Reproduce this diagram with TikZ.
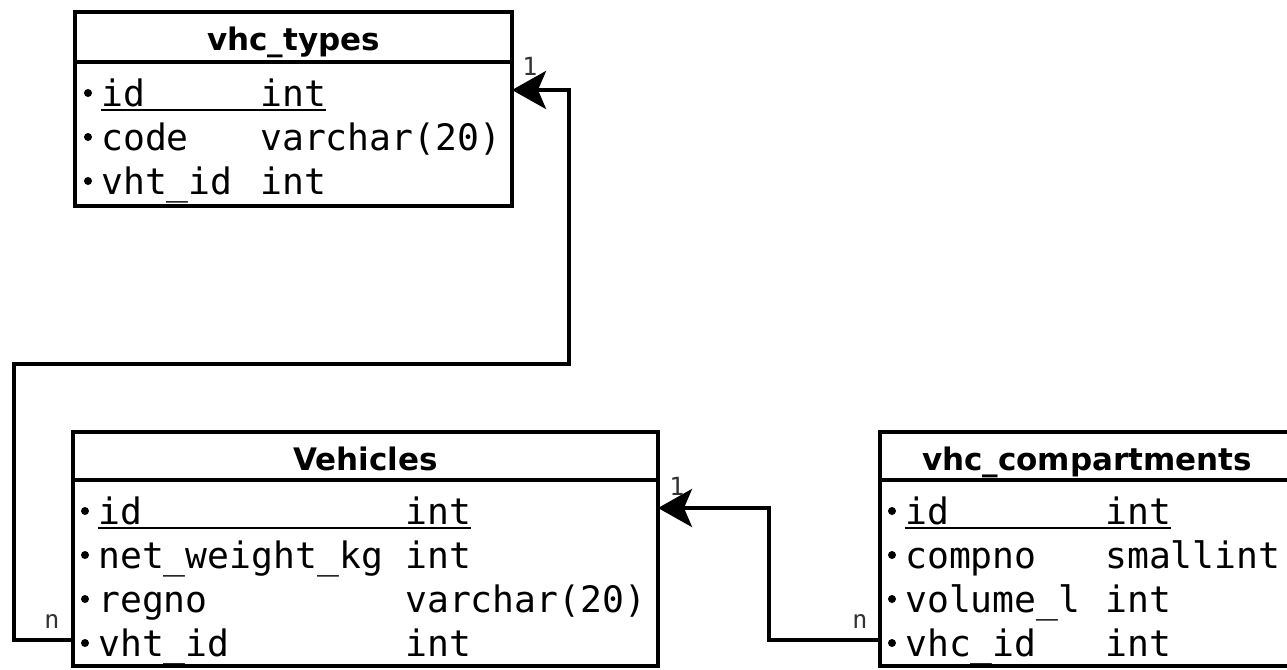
\documentclass[tikz,border=0pt]{standalone}
\usepackage{fontspec}
\usepackage{tikz}
\usetikzlibrary{arrows.meta,positioning}
\newfontfamily\tblmono{DejaVu Sans Mono}
\newfontfamily\tblsans{DejaVu Sans}
\newcommand{\fldfont}{\tblmono\fontsize{36.4}{40}\selectfont}
\newcommand{\hdrfont}{\tblsans\bfseries\fontsize{31}{34}\selectfont}
\newcommand{\cardfont}{\tblmono\fontsize{25}{28}\selectfont}
\tikzset{
	tblhead/.style={draw, line width=4pt, anchor=north west, inner sep=0pt, outer sep=0pt, text height=28pt, text depth=0pt, font=\hdrfont},
	tblbody/.style={draw, line width=4pt, inner sep=0pt, outer sep=0pt},
	fld/.style={anchor=base west, inner sep=0pt, text height=32pt, text depth=0pt, font=\fldfont},
	card/.style={inner sep=0pt, text=black!80, font=\cardfont},
	rel/.style={line width=4pt, -{Stealth[length=34pt, width=38pt, inset=8pt]}},
	pk/.style={line width=2.5pt}
}

\begin{document}
\begin{tikzpicture}[x=1pt, y=-1pt]
		\useasboundingbox (0,0) rectangle (1287,669);
		\clip (0,0) rectangle (1287,669);

		% tabella vhc_types
		\node[tblhead, minimum width=437pt, minimum height=50pt] (typhead) at (75,12) {vhc\_types};
		\node[tblbody, minimum width=437pt, minimum height=144pt, below=0pt of typhead] (typbody) {};
		\node[fld] (typ-id) at (101,106) {id};
		\node[fld] (typ-idt) at (260,106) {int};
		\node[fld] (typ-code) at (101,150) {code};
		\node[fld] (typ-codet) at (260,150) {varchar(20)};
		\node[fld] (typ-vhtid) at (101,194) {vht\_id};
		\node[fld] (typ-vhtidt) at (260,194) {int};
		\draw[pk] ([yshift=-4pt]typ-id.south west) -- ([yshift=-4pt]typ-idt.south east); % chiave
		\fill ([xshift=-13pt,yshift=-3pt]typ-id.west) circle[radius=4pt];
		\fill ([xshift=-13pt,yshift=-3pt]typ-code.west) circle[radius=4pt];
		\fill ([xshift=-13pt,yshift=-3pt]typ-vhtid.west) circle[radius=4pt];

		% tabella Vehicles
		\node[tblhead, minimum width=585pt, minimum height=48pt] (vehhead) at (73,432) {Vehicles};
		\node[tblbody, minimum width=585pt, minimum height=186pt, below=0pt of vehhead] (vehbody) {};
		\node[fld] (veh-id) at (98,524) {id};
		\node[fld] (veh-idt) at (405,524) {int};
		\node[fld] (veh-net) at (98,568) {net\_weight\_kg};
		\node[fld] (veh-nett) at (405,568) {int};
		\node[fld] (veh-reg) at (98,612) {regno};
		\node[fld] (veh-regt) at (405,612) {varchar(20)};
		\node[fld] (veh-vhtid) at (98,656) {vht\_id};
		\node[fld] (veh-vhtidt) at (405,656) {int};
		\draw[pk] ([yshift=-4pt]veh-id.south west) -- ([yshift=-4pt]veh-idt.south east); % chiave
		\fill ([xshift=-13pt,yshift=-3pt]veh-id.west) circle[radius=4pt];
		\fill ([xshift=-13pt,yshift=-3pt]veh-net.west) circle[radius=4pt];
		\fill ([xshift=-13pt,yshift=-3pt]veh-reg.west) circle[radius=4pt];
		\fill ([xshift=-13pt,yshift=-3pt]veh-vhtid.west) circle[radius=4pt];

		% tabella vhc_compartments
		\node[tblhead, minimum width=414pt, minimum height=48pt] (cmphead) at (880,432) {vhc\_compartments};
		\node[tblbody, minimum width=414pt, minimum height=186pt, below=0pt of cmphead] (cmpbody) {};
		\node[fld] (cmp-id) at (905,524) {id};
		\node[fld] (cmp-idt) at (1105,524) {int};
		\node[fld] (cmp-no) at (905,568) {compno};
		\node[fld] (cmp-not) at (1105,568) {smallint};
		\node[fld] (cmp-vol) at (905,612) {volume\_l};
		\node[fld] (cmp-volt) at (1105,612) {int};
		\node[fld] (cmp-vhcid) at (905,656) {vhc\_id};
		\node[fld] (cmp-vhcidt) at (1105,656) {int};
		\draw[pk] ([yshift=-4pt]cmp-id.south west) -- ([yshift=-4pt]cmp-idt.south east); % chiave
		\fill ([xshift=-13pt,yshift=-3pt]cmp-id.west) circle[radius=4pt];
		\fill ([xshift=-13pt,yshift=-3pt]cmp-no.west) circle[radius=4pt];
		\fill ([xshift=-13pt,yshift=-3pt]cmp-vol.west) circle[radius=4pt];
		\fill ([xshift=-13pt,yshift=-3pt]cmp-vhcid.west) circle[radius=4pt];

		% relazioni
		\coordinate (gA) at (14,364);
		\coordinate (gB) at (569,364);
		\coordinate (gC) at (769,508);
		\draw[rel] (vehbody.west |- veh-vhtid.west) -| (gA) -- (gB) |- (typbody.east |- typ-id.west); % vht_id -> id
		\draw[rel] (cmpbody.west |- cmp-vhcid.west) -| (gC) -- (vehbody.east |- veh-id.west); % vhc_id -> id
		\node[card] (c1) at (530,66) {1};
		\node[card] (c2) at (677,486) {1};
		\node[card] (c3) at (52,621) {n};
		\node[card] (c4) at (860,621) {n};
	\end{tikzpicture}
\end{document}
